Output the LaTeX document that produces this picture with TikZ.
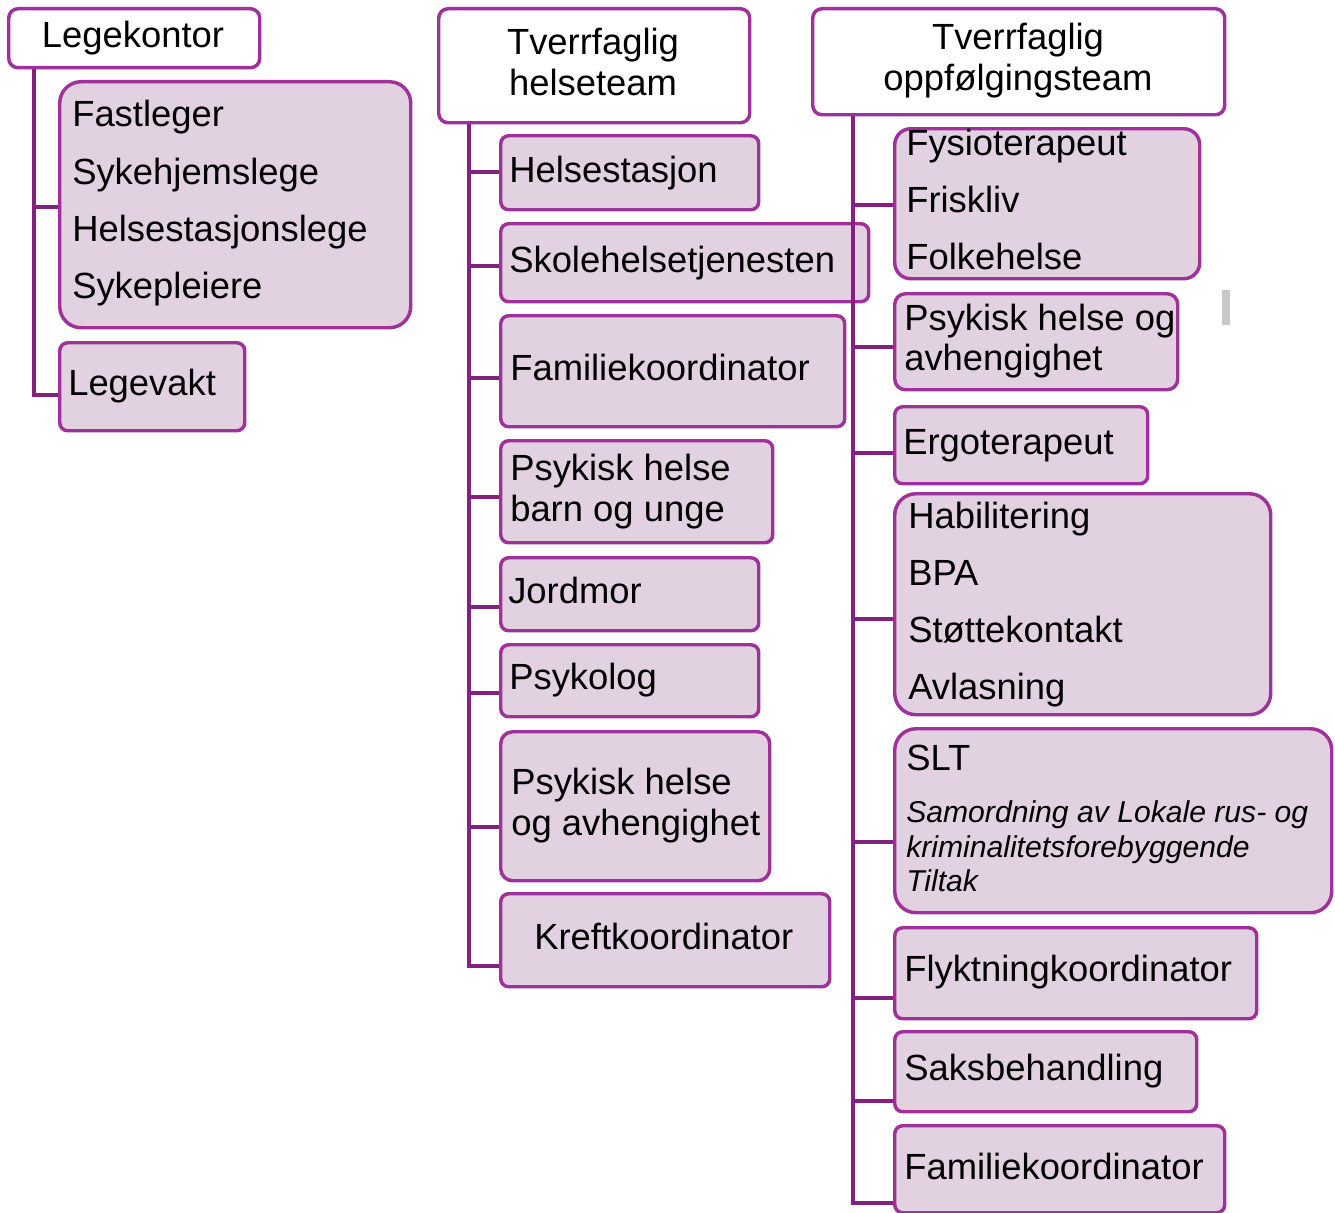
\documentclass[tikz,border=0pt]{standalone}
\usepackage{fontspec}
\setmainfont{Liberation Sans}
\definecolor{bordcol}{HTML}{A0309A}
\definecolor{conncol}{HTML}{84207D}
\definecolor{fillcol}{HTML}{E2D1E0}
\definecolor{greycol}{HTML}{C8C8C8}
\pgfdeclarelayer{connA}
\pgfdeclarelayer{boxA}
\pgfdeclarelayer{connB}
\pgfsetlayers{connA,boxA,connB,main}
\newcommand{\mybox}[6]{\node[#6, anchor=north west, minimum width={(#4)*0.75pt}, minimum height={(#5)*0.75pt}] (#1) at (#2,#3) {};}
\begin{document}
\begin{tikzpicture}[x=0.75pt, y=-0.75pt,
  conn/.style={draw=conncol, line width=3pt},
  box/.style={draw=bordcol, line width=2.6pt, fill=fillcol, rounded corners=6pt, inner sep=0pt},
  hdr/.style={box, fill=white, rounded corners=7pt},
  txt/.style={inner sep=0pt, anchor=base west, font=\fontsize{27.3}{32}\selectfont},
  htxt/.style={inner sep=0pt, anchor=base, font=\fontsize{27.3}{32}\selectfont},
  itxt/.style={inner sep=0pt, anchor=base west, font=\fontsize{22.6}{27}\selectfont\itshape}]
\useasboundingbox (0,0) rectangle (1335,1213);

% ---------- boxes of columns 1 and 2 ----------
\begin{pgfonlayer}{boxA}
\mybox{lk}{7}{7}{251}{59}{hdr}
\mybox{fl}{58}{80}{351}{246}{box, rounded corners=16pt}
\mybox{lv}{58}{341}{185}{88}{box}
\mybox{h2}{437}{7}{311}{114}{hdr}
\mybox{hs}{499}{134}{258}{74}{box}
\mybox{sk}{499}{222}{368}{78}{box}
\mybox{fk}{499}{314}{344}{111}{box}
\mybox{pb}{499}{439}{272}{102}{box}
\mybox{jm}{499}{556}{258}{73}{box}
\mybox{ps}{499}{643}{258}{72}{box}
\mybox{pa}{499}{730}{269}{149}{box, rounded corners=9pt}
\mybox{kk}{499}{892}{329}{93}{box}
\end{pgfonlayer}

% ---------- boxes of column 3 ----------
\mybox{h3}{811}{7}{412}{106}{hdr}
\mybox{fy}{893}{127}{305}{150}{box, rounded corners=12pt}
\mybox{ph}{893}{292}{283}{96}{box, rounded corners=8pt}
\mybox{eg}{893}{405}{253}{77}{box}
\mybox{hb}{893}{492}{376}{221}{box, rounded corners=16pt}
\mybox{slt}{893}{727}{437}{184}{box, rounded corners=16pt}
\mybox{fn}{893}{926}{362}{91}{box}
\mybox{sb}{893}{1030}{302}{80}{box}
\mybox{fk3}{893}{1124}{330}{87}{box}

% ---------- connectors ----------
\coordinate (c1a) at (34,207);
\coordinate (c1b) at (34,395);
\coordinate (c2a) at (469,172);
\coordinate (c2b) at (469,266);
\coordinate (c2c) at (469,378);
\coordinate (c2d) at (469,497);
\coordinate (c2e) at (469,607);
\coordinate (c2f) at (469,693);
\coordinate (c2g) at (469,827);
\coordinate (c2h) at (469,966);
\coordinate (c3a) at (853,205);
\coordinate (c3b) at (853,347);
\coordinate (c3c) at (853,453);
\coordinate (c3d) at (853,619);
\coordinate (c3e) at (853,842);
\coordinate (c3f) at (853,998);
\coordinate (c3g) at (853,1101);
\coordinate (c3h) at (853,1203);

\begin{pgfonlayer}{connA}
\draw[conn] (lk.south -| c1a) -- (c1b) -- (c1b -| lv.west);
\draw[conn] (c1a) -- (c1a -| fl.west);
\draw[conn] (h2.south -| c2a) -- (c2h) -- (c2h -| kk.west);
\foreach \c/\b in {c2a/hs, c2b/sk, c2c/fk, c2d/pb, c2e/jm, c2f/ps, c2g/pa}
  \draw[conn] (\c) -- (\c -| \b.west);
\end{pgfonlayer}

\begin{pgfonlayer}{connB}
\draw[conn] (h3.south -| c3a) -- (c3h) -- (c3h -| fk3.west);
\foreach \c/\b in {c3a/fy, c3b/ph, c3c/eg, c3d/hb, c3e/slt, c3f/fn, c3g/sb}
  \draw[conn] (\c) -- (\c -| \b.west);
\end{pgfonlayer}

% ---------- texts ----------
\node[htxt] at (133,48) {Legekontor};
\node[txt] at (72,127) {Fastleger};
\node[txt] at (72,184) {Sykehjemslege};
\node[txt] at (72,241) {Helsestasjonslege};
\node[txt] at (72,298) {Sykepleiere};
\node[txt] at (68,395) {Legevakt};

\node[htxt] at (593,55) {Tverrfaglig};
\node[htxt] at (593,96) {helseteam};
\node[txt] at (509,182) {Helsestasjon};
\node[txt] at (509,272) {Skolehelsetjenesten};
\node[txt] at (510,380) {Familiekoordinator};
\node[txt] at (510,480) {Psykisk helse};
\node[txt] at (510,521) {barn og unge};
\node[txt] at (508,603) {Jordmor};
\node[txt] at (509,689) {Psykolog};
\node[txt] at (511,794) {Psykisk helse};
\node[txt] at (511,835) {og avhengighet};
\node[txt] at (534,949) {Kreftkoordinator};

\node[htxt] at (1018,50) {Tverrfaglig};
\node[htxt] at (1018,90) {oppfølgingsteam};
\node[txt] at (906,155) {Fysioterapeut};
\node[txt] at (906,212) {Friskliv};
\node[txt] at (906,269) {Folkehelse};
\node[txt] at (904,330) {Psykisk helse og};
\node[txt] at (904,370) {avhengighet};
\node[txt] at (903,454) {Ergoterapeut};
\node[txt] at (908,528) {Habilitering};
\node[txt] at (908,585) {BPA};
\node[txt] at (908,642) {Støttekontakt};
\node[txt] at (908,699) {Avlasning};
\node[txt] at (906,770) {SLT};
\node[itxt] at (906,822) {Samordning av Lokale rus- og};
\node[itxt] at (906,857) {kriminalitetsforebyggende};
\node[itxt] at (906,891) {Tiltak};
\node[txt] at (904,981) {Flyktningkoordinator};
\node[txt] at (904,1080) {Saksbehandling};
\node[txt] at (904,1179) {Familiekoordinator};

% small grey mark
\fill[greycol] (1222,290) rectangle (1230,325);
\end{tikzpicture}
\end{document}
